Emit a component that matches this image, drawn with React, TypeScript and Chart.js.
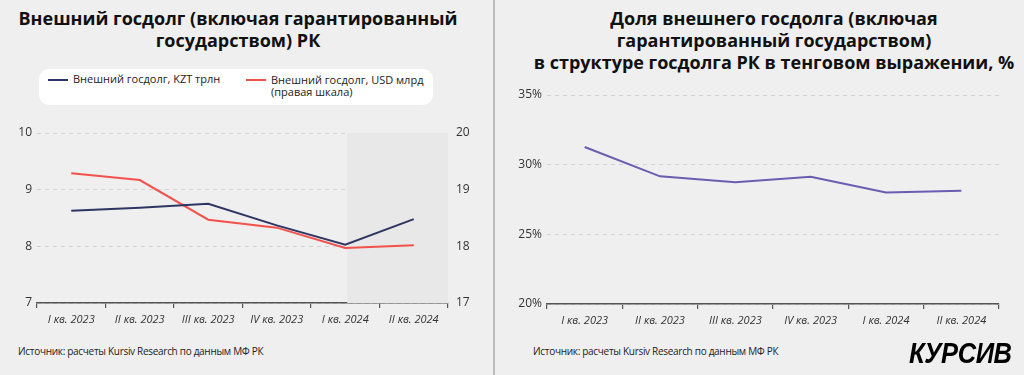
import React, { useEffect, useRef } from "react";
import { Chart, registerables } from "chart.js";

Chart.register(...registerables);

const categories = ["I кв. 2023", "II кв. 2023", "III кв. 2023", "IV кв. 2023", "I кв. 2024", "II кв. 2024"];
const debtKZT = [8.63, 8.68, 8.75, 8.37, 8.03, 8.48];
const debtUSD = [19.29, 19.17, 18.47, 18.33, 17.97, 18.02];
const shareExternal = [31.27, 29.16, 28.73, 29.14, 28.01, 28.13];
const leftTicks = [7, 8, 9, 10];
const rightTicks = [17, 18, 19, 20];
const shareTicks = [20, 25, 30, 35];

const FONT = "'Open Sans', sans-serif";
const BG = "#efefef";

const shadePlugin = {
  id: "shade",
  beforeDatasetsDraw(chart: any) {
    const { ctx, chartArea, scales } = chart;
    const x0 = scales.x.getPixelForValue(4) + 2;
    ctx.save();
    ctx.fillStyle = "#e8e8e8";
    ctx.fillRect(x0, chartArea.top, chartArea.right - x0, chartArea.bottom - chartArea.top);
    ctx.restore();
  },
};

function xAxis(height: number) {
  return {
    type: "category" as const,
    offset: true,
    grid: {
      offset: true,
      drawOnChartArea: false,
      drawTicks: true,
      tickLength: 5,
      color: "#555",
      lineWidth: 1.2,
    },
    border: { display: true, color: "#555", width: 1.5 },
    ticks: {
      color: "#333",
      font: { family: FONT, size: 11, style: "italic" as const },
      padding: 5,
      maxRotation: 0,
      autoSkip: false,
    },
    afterFit(s: any) {
      s.height = height;
    },
  };
}

function LeftChart() {
  const ref = useRef<HTMLCanvasElement>(null);
  useEffect(() => {
    const chart = new Chart(ref.current!, {
      type: "line",
      data: {
        labels: categories,
        datasets: [
          {
            label: "Внешний госдолг, KZT трлн",
            data: debtKZT,
            borderColor: "#2f3563",
            borderWidth: 2,
            pointRadius: 0,
            tension: 0,
            yAxisID: "y",
          },
          {
            label: "Внешний госдолг, USD млрд (правая шкала)",
            data: debtUSD,
            borderColor: "#f2524b",
            borderWidth: 2,
            pointRadius: 0,
            tension: 0,
            yAxisID: "y1",
          },
        ],
      },
      options: {
        animation: false,
        responsive: false,
        maintainAspectRatio: false,
        layout: { padding: { top: 23, left: 0, right: 0, bottom: 0 } },
        plugins: { legend: { display: false }, tooltip: { enabled: false } },
        scales: {
          x: xAxis(37),
          y: {
            position: "left",
            min: 7,
            max: 10,
            afterBuildTicks(s: any) {
              s.ticks = leftTicks.map((v) => ({ value: v }));
            },
            grid: { color: "#d2d2d2", lineWidth: 1, drawTicks: false },
            border: { display: false, dash: [4, 4] },
            ticks: { color: "#333", font: { family: FONT, size: 12 }, padding: 5 },
            afterFit(s: any) {
              s.width = 37;
            },
          },
          y1: {
            position: "right",
            min: 17,
            max: 20,
            afterBuildTicks(s: any) {
              s.ticks = rightTicks.map((v) => ({ value: v }));
            },
            grid: { drawOnChartArea: false, drawTicks: false },
            border: { display: false },
            ticks: { color: "#333", font: { family: FONT, size: 12 }, padding: 8 },
            afterFit(s: any) {
              s.width = 46;
            },
          },
        },
      },
      plugins: [shadePlugin],
    });
    return () => chart.destroy();
  }, []);
  return (
    <canvas
      ref={ref}
      width={494}
      height={230}
      style={{ position: "absolute", left: 0, top: 110, width: 494, height: 230 }}
    />
  );
}

function RightChart() {
  const ref = useRef<HTMLCanvasElement>(null);
  useEffect(() => {
    const chart = new Chart(ref.current!, {
      type: "line",
      data: {
        labels: categories,
        datasets: [
          {
            label: "Доля",
            data: shareExternal,
            borderColor: "#6a5cb0",
            borderWidth: 2,
            pointRadius: 0,
            tension: 0,
          },
        ],
      },
      options: {
        animation: false,
        responsive: false,
        maintainAspectRatio: false,
        layout: { padding: { top: 15, left: 0, right: 25, bottom: 0 } },
        plugins: { legend: { display: false }, tooltip: { enabled: false } },
        scales: {
          x: xAxis(36),
          y: {
            min: 20,
            max: 35,
            afterBuildTicks(s: any) {
              s.ticks = shareTicks.map((v) => ({ value: v }));
            },
            grid: { color: "#d2d2d2", lineWidth: 1, drawTicks: false },
            border: { display: false, dash: [4, 4] },
            ticks: {
              color: "#333",
              font: { family: FONT, size: 12 },
              padding: 5,
              callback: (v: any) => v + "%",
            },
            afterFit(s: any) {
              s.width = 42;
            },
          },
        },
      },
    });
    return () => chart.destroy();
  }, []);
  return (
    <canvas
      ref={ref}
      width={519}
      height={260}
      style={{ position: "absolute", left: 505, top: 80, width: 519, height: 260 }}
    />
  );
}

const titleStyle: React.CSSProperties = {
  position: "absolute",
  fontFamily: FONT,
  fontWeight: 700,
  fontSize: 18,
  lineHeight: "22px",
  color: "#111",
  textAlign: "center",
  whiteSpace: "nowrap",
};

const sourceStyle: React.CSSProperties = {
  position: "absolute",
  fontFamily: FONT,
  fontSize: 10,
  letterSpacing: "-0.3px",
  color: "#222",
  whiteSpace: "nowrap",
};

const legendText: React.CSSProperties = {
  position: "absolute",
  fontFamily: FONT,
  fontSize: 11,
  lineHeight: "12px",
  color: "#222",
  whiteSpace: "nowrap",
};

export default function App() {
  return (
    <div
      style={{
        position: "fixed",
        left: 0,
        top: 0,
        width: 1024,
        height: 375,
        background: BG,
        overflow: "hidden",
      }}
    >
      <div style={{ ...titleStyle, left: 0, width: 476, top: 7 }}>
        Внешний госдолг (включая гарантированный
        <br />
        государством) РК
      </div>
      <div style={{ ...titleStyle, left: 522, width: 504, top: 7 }}>
        Доля внешнего госдолга (включая
        <br />
        гарантированный государством)
        <br />в структуре госдолга РК в тенговом выражении, %
      </div>
      <div
        style={{
          position: "absolute",
          left: 39,
          top: 69,
          width: 394,
          height: 36,
          background: "#fff",
          borderRadius: 10,
        }}
      >
        <div style={{ position: "absolute", left: 9, top: 10, width: 20, height: 2, background: "#2f3563" }} />
        <div style={{ ...legendText, left: 34, top: 4 }}>Внешний госдолг, KZT трлн</div>
        <div style={{ position: "absolute", left: 207, top: 10, width: 20, height: 2, background: "#f2524b" }} />
        <div style={{ ...legendText, left: 232, top: 5 }}>
          Внешний госдолг, USD млрд
          <br />
          (правая шкала)
        </div>
      </div>
      <LeftChart />
      <RightChart />
      <div style={{ position: "absolute", left: 493, top: 0, width: 2, height: 375, background: "#bdbdbd" }} />
      <div style={{ ...sourceStyle, left: 18, top: 344 }}>Источник: расчеты Kursiv Research по данным МФ РК</div>
      <div style={{ ...sourceStyle, left: 533, top: 344 }}>Источник: расчеты Kursiv Research по данным МФ РК</div>
      <div
        style={{
          position: "absolute",
          left: 909,
          top: 336,
          fontFamily: "'Liberation Sans', Arial, sans-serif",
          fontWeight: 700,
          fontStyle: "italic",
          fontSize: 29,
          lineHeight: "34px",
          letterSpacing: "-0.5px",
          color: "#000",
          transform: "scaleX(0.88)",
          transformOrigin: "left center",
          whiteSpace: "nowrap",
        }}
      >
        КУРСИВ
      </div>
    </div>
  );
}
